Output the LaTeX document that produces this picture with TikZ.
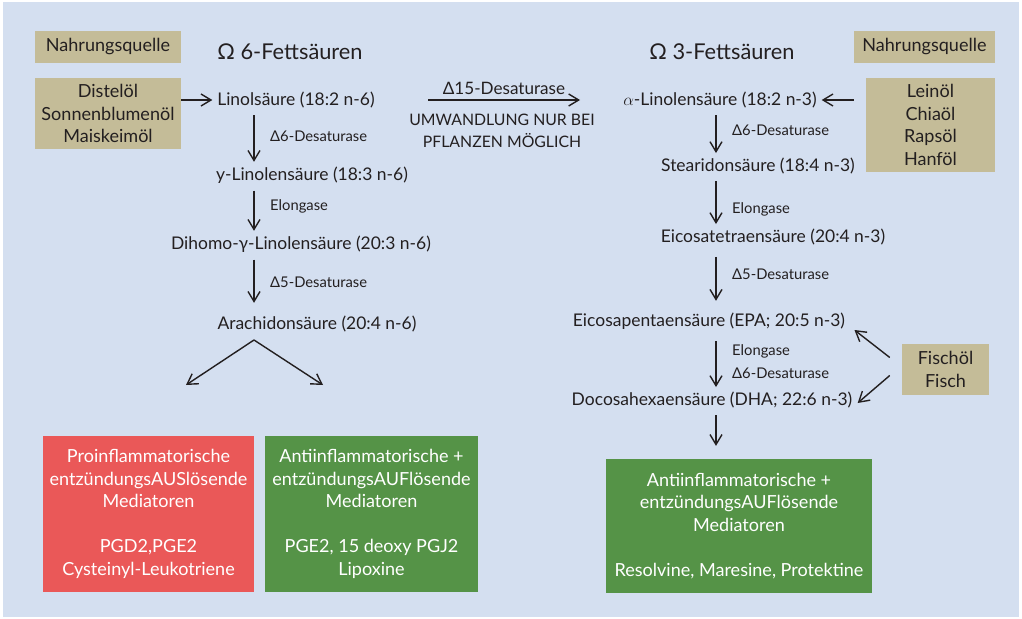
\documentclass[tikz,border=0pt]{standalone}
\usepackage{fontspec}
\setmainfont{Lato}
\usetikzlibrary{arrows.meta}
\definecolor{bgblue}{RGB}{212,223,240}
\definecolor{tanbox}{RGB}{196,188,152}
\definecolor{redbox}{RGB}{234,88,88}
\definecolor{greenbox}{RGB}{85,147,71}
\definecolor{ink}{RGB}{35,31,32}
\begin{document}
\begin{tikzpicture}[x=0.03cm,y=-0.03cm,
    acid/.style={text=ink,font=\fontsize{14.9}{17}\selectfont,inner sep=1pt},
    enzyme/.style={text=ink,font=\fontsize{12.6}{14}\selectfont,anchor=west,inner sep=0pt},
    title/.style={text=ink,font=\fontsize{18.6}{21}\selectfont},
    source/.style={fill=tanbox,text=ink,font=\fontsize{15.4}{19.2}\selectfont,align=center,inner sep=0pt},
    mediator/.style={text=white,font=\fontsize{15.4}{19.2}\selectfont,align=center,inner sep=0pt},
    arr/.style={ink,line width=0.42mm,-{Straight Barb[length=3mm,width=3.6mm]}}]
    %BACKGROUND
    \fill[white] (0,0) rectangle (1022,619);
    \fill[bgblue] (3,2) rectangle (1019,617);
    \useasboundingbox (0,0) rectangle (1022,619);
    %TITLES
    \node[title] (t6) at (290,52) {Ω 6-Fettsäuren};
    \node[title] (t3) at (722,52) {Ω 3-Fettsäuren};
    %SOURCES LEFT
    \node[source,minimum width=146*0.03cm,minimum height=32*0.03cm] (nq6) at (108,47) {Nahrungsquelle};
    \node[source,minimum width=146*0.03cm,minimum height=71*0.03cm] (oil6) at (108,113.5) {Distelöl\\Sonnenblumenöl\\Maiskeimöl};
    %SOURCES RIGHT
    \node[source,minimum width=141*0.03cm,minimum height=32*0.03cm] (nq3) at (924.5,47) {Nahrungsquelle};
    \node[source,minimum width=129*0.03cm,minimum height=94*0.03cm] (oil3) at (930.5,125) {Leinöl\\Chiaöl\\Rapsöl\\Hanföl};
    \node[source,minimum width=87*0.03cm,minimum height=51*0.03cm] (fish) at (945.5,369.5) {Fischöl\\Fisch};
    %OMEGA 6 CHAIN
    \coordinate (x6) at (254,0);
    \node[acid] (lin) at (296,100) {Linolsäure (18:2 n-6)};
    \node[acid] (gla) at (312,175) {y-Linolensäure (18:3 n-6)};
    \node[acid] (dgla) at (301,244) {Dihomo-γ-Linolensäure (20:3 n-6)};
    \node[acid] (ara) at (317,324) {Arachidonsäure (20:4 n-6)};
    \draw[arr] (oil6.east |- lin) -- ([xshift=-3pt]lin.west);
    \draw[arr,shorten <=5pt,shorten >=3pt] (lin.south -| x6) -- (gla.north -| x6);
    \draw[arr,shorten <=5pt,shorten >=3pt] (gla.south -| x6) -- (dgla.north -| x6);
    \draw[arr,shorten <=5pt,shorten >=10pt] (dgla.south -| x6) -- (ara.north -| x6);
    \node[enzyme] (e61) at (270,136) {Δ6-Desaturase};
    \node[enzyme] (e62) at (270,206) {Elongase};
    \node[enzyme] (e63) at (270,282) {Δ5-Desaturase};
    % SPLIT TO MEDIATORS
    \coordinate (split) at (254,340);
    \coordinate (topro) at (186,385);
    \coordinate (toanti) at (323,385);
    \draw[arr] (split) -- (topro);
    \draw[arr] (split) -- (toanti);
    %DELTA 15
    \coordinate (d15a) at (428,100);
    \coordinate (d15b) at (580,100);
    \draw[arr] (d15a) -- (d15b) node[midway,above=3pt,acid,font=\fontsize{14.6}{17}\selectfont] (e15) {Δ15-Desaturase};
    \node[acid,align=center,font=\fontsize{13.5}{19}\selectfont] (plant) at (502,131) {UMWANDLUNG NUR BEI\\PFLANZEN MÖGLICH};
    %OMEGA 3 CHAIN
    \coordinate (x3) at (716,0);
    \node[acid] (ala) at (720,100) {$\alpha$-Linolensäure (18:2 n-3)};
    \node[acid] (sda) at (758,166) {Stearidonsäure (18:4 n-3)};
    \node[acid] (eta) at (773,237) {Eicosatetraensäure (20:4 n-3)};
    \node[acid] (epa) at (709,321) {Eicosapentaensäure (EPA; 20:5 n-3)};
    \node[acid] (dha) at (712,400) {Docosahexaensäure (DHA; 22:6 n-3)};
    \draw[arr,shorten <=12*0.03cm] (oil3.west |- ala) -- ([xshift=3pt]ala.east);
    \draw[arr,shorten <=5pt,shorten >=3pt] (ala.south -| x3) -- (sda.north -| x3);
    \draw[arr,shorten <=5pt,shorten >=3pt] (sda.south -| x3) -- (eta.north -| x3);
    \draw[arr,shorten <=9pt,shorten >=9pt] (eta.south -| x3) -- (epa.north -| x3);
    \draw[arr,shorten <=9pt,shorten >=3pt] (epa.south -| x3) -- (dha.north -| x3);
    \node[enzyme] (e31) at (732,130) {Δ6-Desaturase};
    \node[enzyme] (e32) at (732,209) {Elongase};
    \node[enzyme] (e33) at (732,274) {Δ5-Desaturase};
    \node[enzyme] (e34) at (732,351) {Elongase};
    \node[enzyme] (e35) at (732,373) {Δ6-Desaturase};
    %FISH TO EPA AND DHA
    \draw[arr] ([shift={(-12,-12)}]fish.west) -- ([shift={(8,9)}]epa.east);
    \draw[arr] ([shift={(-12,6)}]fish.west) -- ([shift={(4,3)}]dha.east);
    %MEDIATORS
    \node[mediator,fill=redbox,minimum width=211*0.03cm,minimum height=156*0.03cm] (pro) at (148.5,514) {Proinflammatorische\\entzündungsAUSlösende\\Mediatoren\\[19.2pt]PGD2,PGE2\\Cysteinyl-Leukotriene};
    \node[mediator,fill=greenbox,minimum width=213*0.03cm,minimum height=156*0.03cm] (anti6) at (371.5,514) {Antiinflammatorische +\\entzündungsAUFlösende\\Mediatoren\\[19.2pt]PGE2, 15 deoxy PGJ2\\Lipoxine};
    \node[mediator,fill=greenbox,minimum width=266*0.03cm,minimum height=134*0.03cm] (anti3) at (739,526) {Antiinflammatorische +\\entzündungsAUFlösende\\Mediatoren\\[19.2pt]Resolvine, Maresine, Protektine};
    \draw[arr,shorten <=5pt,shorten >=11pt] (dha.south -| x3) -- (anti3.north -| x3);
  \end{tikzpicture}
\end{document}
